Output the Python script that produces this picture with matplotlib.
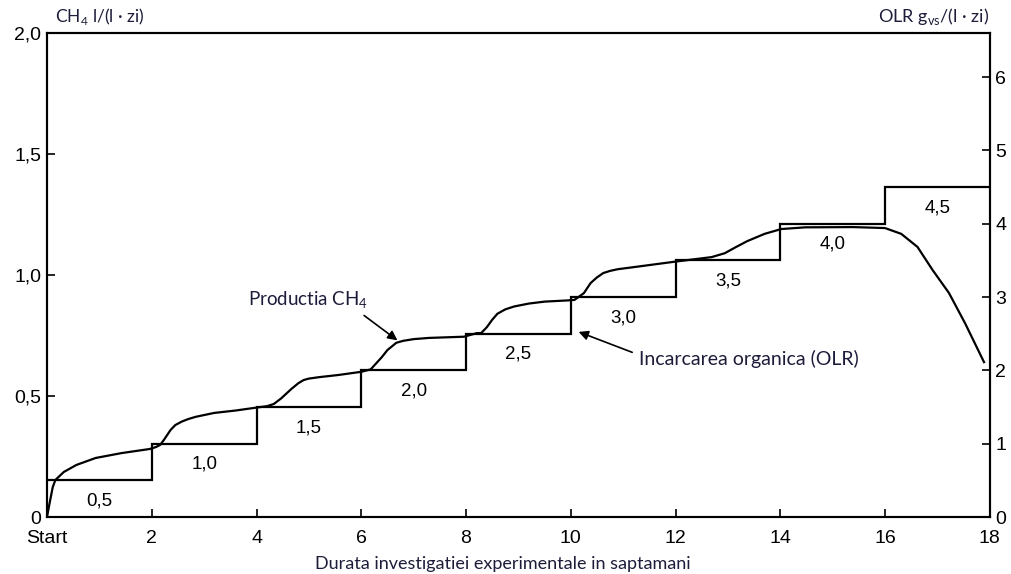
import matplotlib
matplotlib.use("Agg")
import matplotlib.pyplot as plt

# Organic loading rate, g VS/(l·zi), held for two weeks at each level
olr_edges = [0, 2, 4, 6, 8, 10, 12, 14, 16, 18]
olr_levels = [0.5, 1.0, 1.5, 2.0, 2.5, 3.0, 3.5, 4.0, 4.5]

# Methane production, l/(l·zi), versus time in weeks
weeks = [0, 0.05, 0.11, 0.16, 0.32, 0.56, 0.93, 1.42, 1.96, 2.08, 2.16, 2.23,
         2.36, 2.45, 2.57, 2.7, 2.84, 3.19, 3.6, 3.93, 4.2, 4.33, 4.47, 4.67,
         4.8, 4.9, 5.0, 5.2, 5.57, 6.0, 6.18, 6.39, 6.5, 6.67, 6.8, 7.0, 7.29,
         7.96, 8.21, 8.29, 8.4, 8.5, 8.6, 8.75, 8.92, 9.2, 9.5, 9.94, 10.07,
         10.25, 10.38, 10.5, 10.62, 10.75, 10.9, 11.22, 11.95, 12.69, 12.94,
         13.15, 13.37, 13.7, 14.02, 14.48, 15.39, 16.0, 16.31, 16.62, 16.91,
         17.22, 17.53, 17.89]
ch4 = [0, 0.058, 0.124, 0.153, 0.186, 0.215, 0.244, 0.264, 0.281, 0.289, 0.298,
       0.318, 0.36, 0.38, 0.394, 0.405, 0.414, 0.43, 0.44, 0.45, 0.458, 0.467,
       0.49, 0.53, 0.553, 0.566, 0.572, 0.578, 0.587, 0.60, 0.61, 0.66, 0.69,
       0.72, 0.728, 0.735, 0.74, 0.745, 0.76, 0.76, 0.785, 0.815, 0.84, 0.858,
       0.87, 0.882, 0.89, 0.895, 0.897, 0.925, 0.967, 0.99, 1.008, 1.017,
       1.024, 1.033, 1.054, 1.074, 1.09, 1.115, 1.14, 1.17, 1.19, 1.197,
       1.198, 1.194, 1.17, 1.116, 1.02, 0.926, 0.80, 0.64]

x_ticks = [0, 2, 4, 6, 8, 10, 12, 14, 16, 18]
x_labels = ["Start", "2", "4", "6", "8", "10", "12", "14", "16", "18"]
left_ticks = [0, 0.5, 1.0, 1.5, 2.0]
left_labels = ["0", "0,5", "1,0", "1,5", "2,0"]
right_ticks = [0, 1, 2, 3, 4, 5, 6]

note_font = "Lato"
note_color = "#1c1c3a"
tick_font = "Liberation Sans"

plt.rcParams["mathtext.fontset"] = "custom"
plt.rcParams["mathtext.rm"] = note_font

fig = plt.figure(figsize=(10.11, 5.74), dpi=100)
ax = fig.add_axes([0.0465, 0.0993, 0.9325, 0.8432])
ax2 = ax.twinx()

ax.set_xlim(0, 18)
ax.set_ylim(0, 2.0)
ax2.set_ylim(0, 6.6)

# Methane production curve (left axis)
ax.plot(weeks, ch4, color="black", lw=1.6, solid_joinstyle="round")

# Organic loading rate steps (right axis)
ax2.stairs(olr_levels, olr_edges, baseline=None, color="black", lw=1.6)

# Level labels under each step
for i, lvl in enumerate(olr_levels):
    xc = (olr_edges[i] + olr_edges[i + 1]) / 2
    ax2.text(xc, lvl - 0.28, f"{lvl:.1f}".replace(".", ","),
             ha="center", va="center", fontsize=13.5, family=tick_font)

for a in (ax, ax2):
    for s in a.spines.values():
        s.set_linewidth(1.5)

ax.set_xticks(x_ticks)
ax.set_xticklabels(x_labels, family=tick_font, fontsize=14)
ax.set_yticks(left_ticks)
ax.set_yticklabels(left_labels, family=tick_font, fontsize=14)
ax.tick_params(axis="both", direction="in", length=6, width=1.2, pad=4)
ax.tick_params(axis="x", pad=9)
ax2.set_yticks(right_ticks)
ax2.set_yticklabels([str(t) for t in right_ticks], family=tick_font, fontsize=14)
ax2.tick_params(axis="y", direction="in", length=6, width=1.2, pad=4)

# Axis titles
fig.text(0.054, 0.953, r"CH$_\mathrm{4}$ l/(l · zi)", ha="left", va="bottom",
         fontsize=12.5, family=note_font, color=note_color)
fig.text(0.978, 0.953, r"OLR g$_\mathrm{vs}$/(l · zi)", ha="right", va="bottom",
         fontsize=13, family=note_font, color=note_color)
fig.text(0.497, 0.004, "Durata investigatiei experimentale in saptamani",
         ha="center", va="bottom", fontsize=13, family=note_font, color=note_color)

# Annotations
ax.annotate(r"Productia CH$_\mathrm{4}$", xy=(6.69, 0.73), xytext=(3.83, 0.895),
            ha="left", va="center", fontsize=13.5, family=note_font, color=note_color,
            arrowprops=dict(arrowstyle="-|>", color="black", lw=1.2,
                            mutation_scale=14, shrinkA=2, shrinkB=0,
                            relpos=(0.92, 0.0)))
ax.annotate("Incarcarea organica (OLR)", xy=(10.15, 0.765), xytext=(11.3, 0.655),
            ha="left", va="center", fontsize=14, family=note_font, color=note_color,
            arrowprops=dict(arrowstyle="-|>", color="black", lw=1.2,
                            mutation_scale=14, shrinkA=3, shrinkB=0,
                            relpos=(0.0, 0.7)))

fig.savefig("out.png", dpi=100)
